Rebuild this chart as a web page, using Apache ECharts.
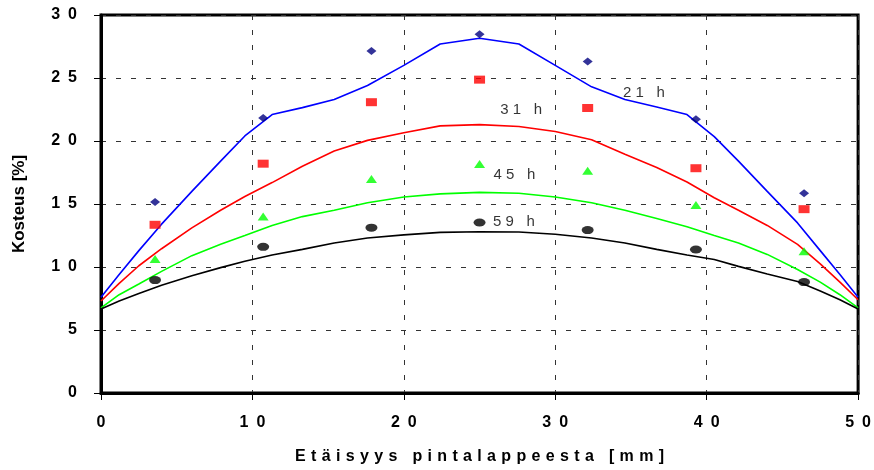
<!DOCTYPE html>
<html>
<head>
<meta charset="utf-8">
<script src="https://cdn.jsdelivr.net/npm/echarts@6/dist/echarts.min.js"></script>
<style>
  html, body { margin: 0; padding: 0; background: #fff; }
  #chart { width: 874px; height: 470px; }
</style>
</head>
<body>
<div id="chart"></div>
<script>
// Moisture profiles across the board thickness after 21, 31, 45 and 59 h of drying.

// Measured sample positions (mm from the face)
const sampleX = [3.57, 10.71, 17.86, 25, 32.14, 39.29, 46.43];
// Measured moisture content (%)
const meas21 = [15.15, 21.83, 27.15, 28.47, 26.3, 21.73, 15.86];
const meas31 = [13.35, 18.2, 23.08, 24.87, 22.62, 17.84, 14.59];
const meas45 = [10.63, 14.0, 16.98, 18.17, 17.64, 14.92, 11.25];
const meas59 = [8.96, 11.6, 13.12, 13.53, 12.93, 11.39, 8.8];

// Model node positions (mm) and computed profiles (%)
const modelX = [0, 1.2, 2.5, 4, 6, 7.9, 9.5, 11.3, 13.3, 15.4, 17.6, 20, 22.4, 25,
  27.6, 30, 32.4, 34.6, 36.7, 38.7, 40.5, 42.1, 44, 46, 47.5, 48.8, 50];
const model21 = [7.6, 9.4, 11.3, 13.4, 16.0, 18.4, 20.4, 22.1, 22.65, 23.3, 24.4, 26.0, 27.7, 28.15,
  27.7, 26.0, 24.3, 23.3, 22.7, 22.1, 20.35, 18.4, 16.0, 13.5, 11.3, 9.4, 7.6];
const model31 = [7.3, 8.7, 10.1, 11.45, 13.1, 14.5, 15.6, 16.7, 18.0, 19.2, 20.05, 20.65, 21.2, 21.3,
  21.15, 20.75, 20.1, 18.95, 17.9, 16.75, 15.5, 14.5, 13.3, 11.8, 10.25, 8.8, 7.4];
const model45 = [6.75, 7.8, 8.65, 9.65, 10.9, 11.8, 12.5, 13.3, 14.0, 14.5, 15.1, 15.55, 15.8, 15.92,
  15.85, 15.55, 15.1, 14.5, 13.85, 13.2, 12.5, 11.9, 11.0, 9.8, 8.8, 7.8, 6.75];
const model59 = [6.66, 7.3, 7.9, 8.55, 9.3, 9.95, 10.45, 10.95, 11.4, 11.9, 12.3, 12.55, 12.75, 12.8,
  12.78, 12.6, 12.3, 11.9, 11.4, 10.95, 10.6, 10.05, 9.45, 8.85, 8.1, 7.4, 6.66];

// Curve captions: [x, y, text]
const curveLabels = [
  [34.47, 23.84, '21 h'],
  [26.36, 22.5, '31 h'],
  [25.92, 17.34, '45 h'],
  [25.88, 13.6, '59 h']
];

const xTitle = 'Etäisyys pintalappeesta [mm]';
const yTitle = 'Kosteus [%]';

const FONT = 'Arial, "Liberation Sans", sans-serif';

// Widen text by putting a fixed-width space between its characters
function spread(text, gap) {
  return Array.from(text).join(gap);
}

function pairs(xs, ys) {
  return xs.map((x, i) => [x, ys[i]]);
}

function modelLine(name, ys, color) {
  return {
    name: name,
    type: 'line',
    data: pairs(modelX, ys),
    showSymbol: false,
    symbol: 'none',
    smooth: false,
    lineStyle: { color: color, width: 1.6 },
    z: 2,
    silent: true
  };
}

function measPoints(name, ys, symbol, size, color) {
  return {
    name: name,
    type: 'scatter',
    data: pairs(sampleX, ys),
    symbol: symbol,
    symbolSize: size,
    itemStyle: { color: color },
    z: 4,
    silent: true
  };
}

const chart = echarts.init(document.getElementById('chart'), null, { renderer: 'canvas' });

const gridLine = { show: true, lineStyle: { color: '#333', width: 1, type: [5, 10] } };

chart.setOption({
  backgroundColor: '#fff',
  animation: false,
  grid: {
    left: 101, right: 13, top: 15, bottom: 77,
    show: true, borderColor: '#000', borderWidth: 3, backgroundColor: 'transparent'
  },
  xAxis: {
    type: 'value',
    min: 0, max: 50, interval: 10,
    name: spread(xTitle, '\u2004'),
    nameLocation: 'middle',
    nameGap: 56,
    nameTextStyle: { fontFamily: FONT, fontWeight: 'bold', fontSize: 16, color: '#000' },
    axisLine: { show: true, onZero: false, lineStyle: { color: '#000', width: 3 } },
    axisTick: { show: true, inside: false, length: 7, lineStyle: { color: '#000', width: 1 } },
    axisLabel: {
      margin: 22,
      fontFamily: FONT, fontWeight: 'bold', fontSize: 16, color: '#000',
      formatter: v => spread(String(v), '\u2002')
    },
    splitLine: gridLine
  },
  yAxis: {
    type: 'value',
    min: 0, max: 30, interval: 5,
    name: yTitle,
    nameLocation: 'middle',
    nameGap: 73,
    nameRotate: 90,
    nameTextStyle: { fontFamily: FONT, fontWeight: 'bold', fontSize: 17, color: '#000' },
    axisLine: { show: true, onZero: false, lineStyle: { color: '#000', width: 3 } },
    axisTick: { show: true, inside: false, length: 7, lineStyle: { color: '#000', width: 1 } },
    axisLabel: {
      margin: 24,
      fontFamily: FONT, fontWeight: 'bold', fontSize: 16, color: '#000',
      formatter: v => spread(String(v), '\u2002')
    },
    splitLine: gridLine
  },
  series: [
    modelLine('21 h', model21, '#0000ff'),
    modelLine('31 h', model31, '#ff0000'),
    modelLine('45 h', model45, '#00ff00'),
    modelLine('59 h', model59, '#000000'),
    measPoints('21 h mitattu', meas21, 'diamond', [10, 8], '#000080'),
    measPoints('31 h mitattu', meas31, 'rect', [11, 8], '#ff0000'),
    measPoints('45 h mitattu', meas45, 'triangle', [11, 8], '#00ff00'),
    measPoints('59 h mitattu', meas59, 'circle', [12, 8], '#000000'),
    {
      name: 'captions',
      type: 'scatter',
      data: curveLabels.map(d => ({ value: [d[0], d[1]], caption: d[2] })),
      symbolSize: 0,
      silent: true,
      z: 5,
      label: {
        show: true,
        position: [0, 0],
        align: 'left',
        verticalAlign: 'middle',
        fontFamily: FONT,
        fontSize: 15,
        color: '#000',
        formatter: p => spread(p.data.caption, '\u2009\u200a')
      }
    }
  ]
});
</script>
</body>
</html>
